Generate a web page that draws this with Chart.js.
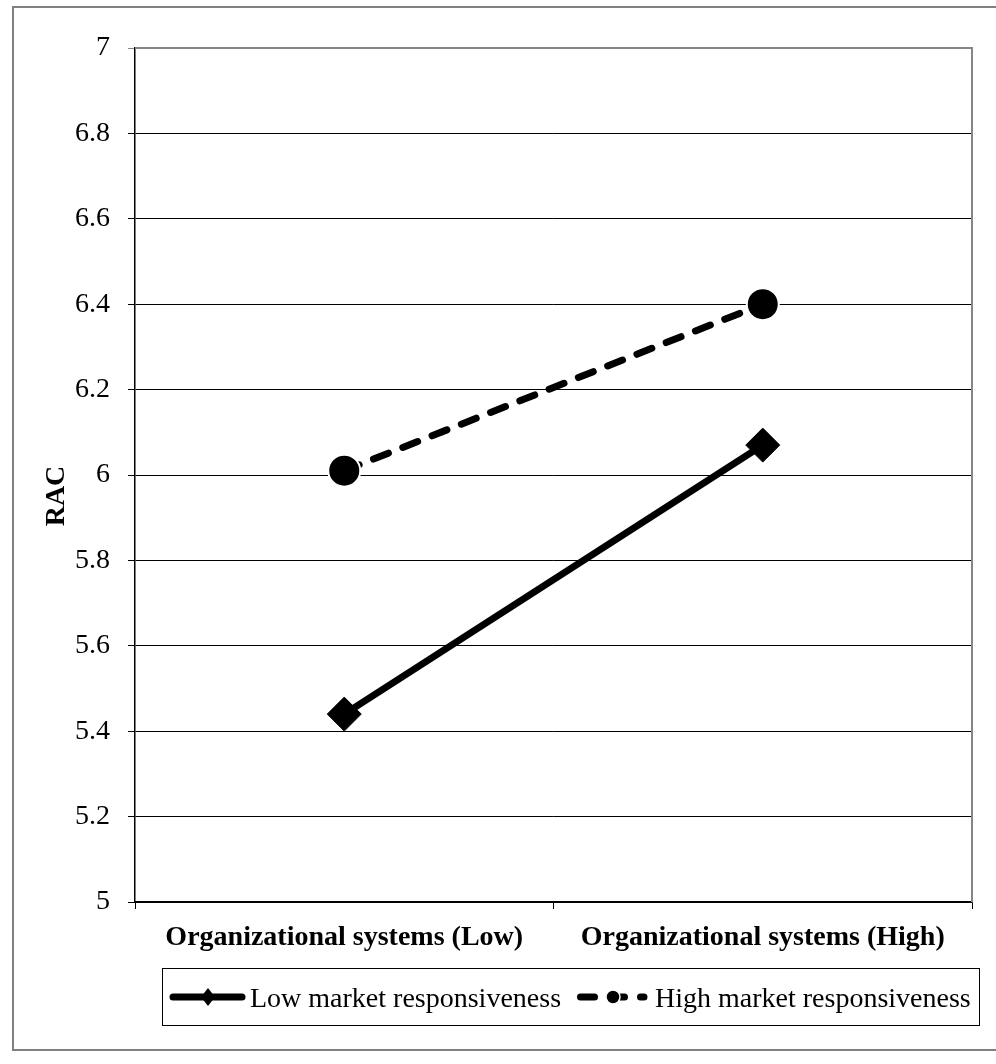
<!DOCTYPE html>
<html>
<head>
<meta charset="utf-8">
<script src="https://cdn.jsdelivr.net/npm/chart.js@4"></script>
<style>
  body { margin: 0; background: #fff; }
  canvas { display: block; }
</style>
</head>
<body>
<canvas id="chart" width="996" height="1064"></canvas>
<script>
// chart data
var categories = ["Organizational systems (Low)", "Organizational systems (High)"];
var lowMarket = [5.44, 6.07];
var highMarket = [6.01, 6.40];
var seriesNames = ["Low market responsiveness", "High market responsiveness"];
var yTitle = "RAC";

var serif = '"Liberation Serif", "Times New Roman", serif';

// frame around the whole picture, plot area border and legend box
var framePlugin = {
    id: "frame",
    beforeDraw: function (chart) {
        var ctx = chart.ctx;
        ctx.save();
        ctx.strokeStyle = "#808080";
        ctx.lineWidth = 2;
        ctx.beginPath();
        ctx.moveTo(1000, 7);
        ctx.lineTo(13, 7);
        ctx.lineTo(13, 1050);
        ctx.lineTo(1000, 1050);
        ctx.stroke();
        ctx.restore();
    },
    afterDatasetsDraw: function (chart) {
        var ctx = chart.ctx;
        var a = chart.chartArea;
        ctx.save();
        ctx.strokeStyle = "#868686";
        ctx.lineWidth = 2;
        ctx.beginPath();
        ctx.moveTo(a.left, a.top);
        ctx.lineTo(a.right, a.top);
        ctx.lineTo(a.right, a.bottom);
        ctx.stroke();
        ctx.restore();
    },
    afterDraw: function (chart) {
        var ctx = chart.ctx;
        ctx.save();
        // legend box
        ctx.strokeStyle = "#000";
        ctx.lineWidth = 1;
        ctx.strokeRect(162.5, 968.5, 817, 57);
        var cy = 997;

        // symbol 1: solid line with diamond
        ctx.strokeStyle = "#000";
        ctx.lineWidth = 7;
        ctx.lineCap = "round";
        ctx.beginPath();
        ctx.moveTo(173, cy);
        ctx.lineTo(242, cy);
        ctx.stroke();
        ctx.fillStyle = "#000";
        ctx.beginPath();
        ctx.moveTo(208, cy - 9);
        ctx.lineTo(215, cy);
        ctx.lineTo(208, cy + 9);
        ctx.lineTo(201, cy);
        ctx.closePath();
        ctx.fill();

        // symbol 2: dashed line with circle
        ctx.setLineDash([14, 16]);
        ctx.beginPath();
        ctx.moveTo(580.5, cy);
        ctx.lineTo(644, cy);
        ctx.stroke();
        ctx.setLineDash([]);
        ctx.fillStyle = "#000";
        ctx.strokeStyle = "#fff";
        ctx.lineWidth = 1.5;
        ctx.beginPath();
        ctx.arc(613, cy, 7, 0, Math.PI * 2);
        ctx.fill();
        ctx.stroke();

        // legend texts
        ctx.fillStyle = "#000";
        ctx.font = "28px " + serif;
        ctx.textBaseline = "alphabetic";
        ctx.textAlign = "left";
        ctx.fillText(chart.data.datasets[0].label, 250, 1007);
        ctx.fillText(chart.data.datasets[1].label, 655, 1007);
        ctx.restore();
    }
};

var ctx = document.getElementById("chart").getContext("2d");

var myChart = new Chart(ctx, {
    type: "line",
    data: {
        labels: categories,
        datasets: [{
            label: seriesNames[0],
            data: lowMarket,
            borderColor: "#000",
            backgroundColor: "#000",
            borderWidth: 7,
            borderCapStyle: "round",
            pointStyle: "rectRot",
            pointRadius: 17,
            pointHoverRadius: 17,
            pointBackgroundColor: "#000",
            pointBorderColor: "#000",
            pointBorderWidth: 1,
            tension: 0
        }, {
            label: seriesNames[1],
            data: highMarket,
            borderColor: "#000",
            backgroundColor: "#000",
            borderWidth: 7,
            borderDash: [16, 15.5],
            borderCapStyle: "round",
            pointStyle: "circle",
            pointRadius: 16,
            pointHoverRadius: 16,
            pointBackgroundColor: "#000",
            pointBorderColor: "#fff",
            pointBorderWidth: 2,
            tension: 0
        }]
    },
    options: {
        responsive: false,
        animation: false,
        layout: {
            padding: { left: 0, top: 48, right: 24, bottom: 102 }
        },
        plugins: {
            legend: { display: false },
            tooltip: { enabled: false }
        },
        scales: {
            x: {
                offset: true,
                afterFit: function (scale) { scale.height = 60; },
                grid: {
                    offset: true,
                    drawOnChartArea: false,
                    tickLength: 7,
                    color: "#000",
                    lineWidth: 1
                },
                border: { color: "#000", width: 1.5 },
                ticks: {
                    padding: 12,
                    maxRotation: 0,
                    autoSkip: false,
                    color: "#000",
                    font: { family: serif, size: 28, weight: "bold" }
                }
            },
            y: {
                min: 5,
                max: 7,
                afterFit: function (scale) { scale.width = 135; },
                grid: {
                    tickLength: 7,
                    color: function (c) {
                        return c.tick && c.tick.value >= 7 ? "#868686" : "#000";
                    },
                    lineWidth: 1
                },
                border: { color: "#000", width: 1.5 },
                title: {
                    display: true,
                    text: yTitle + "      ",
                    color: "#000",
                    padding: { top: 40, bottom: 0 },
                    font: { family: serif, size: 28, weight: "bold" }
                },
                ticks: {
                    stepSize: 0.2,
                    padding: 18,
                    color: "#000",
                    font: { family: serif, size: 28 },
                    callback: function (value) {
                        return String(Number(value.toFixed(1)));
                    }
                }
            }
        }
    },
    plugins: [framePlugin]
});
</script>
</body>
</html>
